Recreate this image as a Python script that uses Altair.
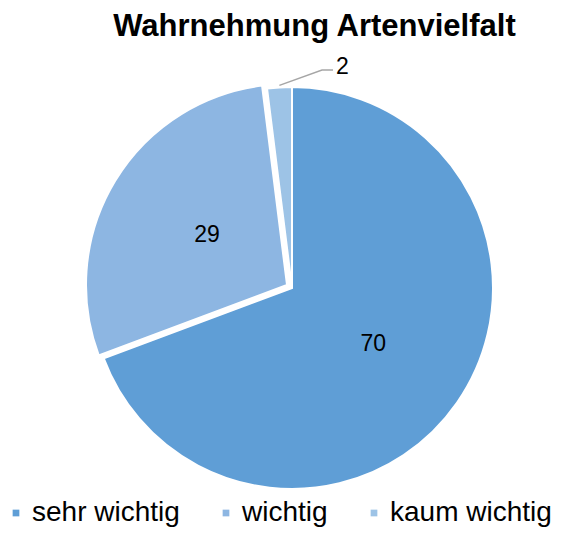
import math
import altair as alt
import pandas as pd

categories = ["sehr wichtig", "wichtig", "kaum wichtig"]
values = [70, 29, 2]
labels = ["70", "29", ""]
outer_label = "2"
colors = ["#5F9ED6", "#8DB6E2", "#9DC3E6"]
title_text = "Wahrnehmung Artenvielfalt"

FONT = "Liberation Sans"
W, H = 545, 469
PAD_TOP = 50
CX, CY = 284, 230
R = 201
EXPL = (-5, -3)

df = pd.DataFrame({"category": categories, "value": values, "label": labels,
                   "idx": list(range(len(values)))})

theta = alt.Theta("value:Q", stack=True)
order = alt.Order("idx:Q")
color_scale = alt.Scale(domain=categories, range=colors)

is_w = alt.datum.category == "wichtig"

arcs_main = alt.Chart(df).mark_arc(outerRadius=R, stroke="white", strokeWidth=2).encode(
    theta=theta,
    order=order,
    color=alt.Color("category:N", scale=color_scale, sort=categories,
                    legend=alt.Legend(title=None, orient="none", legendX=-6, legendY=441,
                                      padding=0, labelLimit=400,
                                      direction="horizontal", symbolType="square",
                                      symbolSize=45, symbolStrokeWidth=0,
                                      labelFont=FONT, labelFontSize=28, labelColor="#000000",
                                      labelOffset=2, columnPadding=32)),
    opacity=alt.condition(is_w, alt.value(0), alt.value(1)),
    x=alt.value(CX), y=alt.value(CY),
)

arcs_expl = alt.Chart(df).mark_arc(outerRadius=R, stroke="white", strokeWidth=2).encode(
    theta=theta,
    order=order,
    color=alt.Color("category:N", scale=color_scale, sort=categories, legend=None),
    opacity=alt.condition(is_w, alt.value(1), alt.value(0)),
    x=alt.value(CX + EXPL[0]), y=alt.value(CY + EXPL[1]),
)

texts_main = alt.Chart(df).mark_text(radius=99, font=FONT, fontSize=23, color="#000000").encode(
    theta=theta,
    order=order,
    text=alt.condition(is_w, alt.value(""), alt.Text("label:N")),
    x=alt.value(CX), y=alt.value(CY),
)
texts_expl = alt.Chart(df).mark_text(radius=97, font=FONT, fontSize=23, color="#000000").encode(
    theta=theta,
    order=order,
    text=alt.condition(is_w, alt.Text("label:N"), alt.value("")),
    x=alt.value(CX + EXPL[0] + 3), y=alt.value(CY + EXPL[1]),
)

# leader line for the small slice
total = sum(values)
mid = 2 * math.pi * (sum(values[:2]) + values[2] / 2) / total
sx = CX + (R + 2) * math.sin(mid)
sy = CY - (R + 2) * math.cos(mid)
ex, ey = CX + 30, CY - 218
fx = ex + 11
leader_df = pd.DataFrame({"x": [sx, ex, fx], "y": [sy, ey, ey], "o": [0, 1, 2]})
leader = alt.Chart(leader_df).mark_line(color="#A6A6A6", strokeWidth=1.5).encode(
    x=alt.X("x:Q", scale=None, axis=None),
    y=alt.Y("y:Q", scale=None, axis=None),
    order="o:Q",
)
lab_df = pd.DataFrame({"x": [fx + 3], "y": [ey - 3], "t": [outer_label]})
lab = alt.Chart(lab_df).mark_text(align="left", baseline="middle", font=FONT,
                                  fontSize=23, color="#000000").encode(
    x=alt.X("x:Q", scale=None, axis=None),
    y=alt.Y("y:Q", scale=None, axis=None),
    text="t:N",
)

chart = alt.layer(arcs_main, arcs_expl, texts_main, texts_expl, leader, lab).properties(
    width=W, height=H,
    autosize=alt.AutoSizeParams(type="none"),
    padding={"left": 0, "top": PAD_TOP, "right": 0, "bottom": 0},
    title=alt.TitleParams(title_text, font=FONT, fontSize=31, fontWeight="bold",
                          color="#000000", anchor="middle", offset=13, dx=34),
).configure_view(stroke=None)

chart.save("out.html", embed_options={"renderer": "svg", "actions": False})
